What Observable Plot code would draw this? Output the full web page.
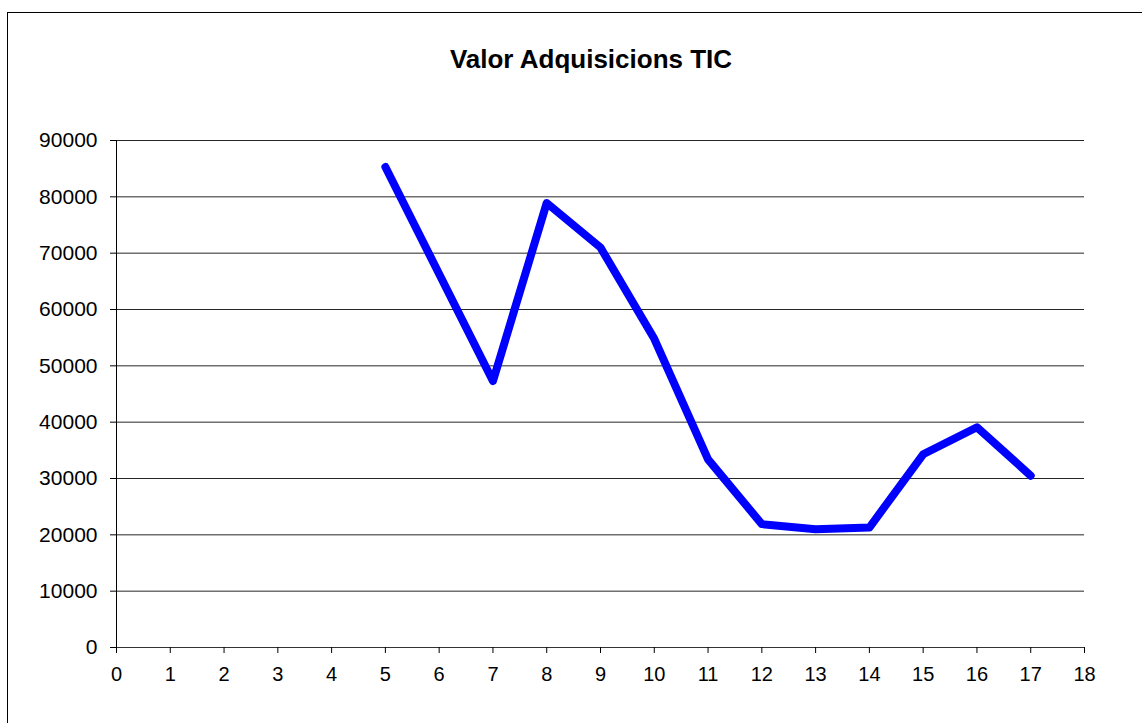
<!DOCTYPE html>
<html>
<head>
<meta charset="utf-8">
<script src="https://cdn.jsdelivr.net/npm/d3@7"></script>
<script src="https://cdn.jsdelivr.net/npm/@observablehq/plot@0.6"></script>
<style>
  html, body { margin: 0; padding: 0; background: #fff; overflow: hidden; width: 1142px; height: 723px; }
  #frame { position: absolute; left: 7px; top: 12px; width: 1300px; height: 900px; border: 1px solid #000; box-sizing: border-box; }
  #title { position: absolute; left: 0; width: 1182px; top: 44px; line-height: 26px; text-align: center; font: bold 26px "Liberation Sans", Arial, sans-serif; color: #000; }
  #chart { position: absolute; left: 0; top: 0; }
</style>
</head>
<body>
<div id="frame"></div>
<div id="title">Valor Adquisicions TIC</div>
<div id="chart"></div>
<script>
const xValues = [5, 6, 7, 8, 9, 10, 11, 12, 13, 14, 15, 16, 17];
const yValues = [85300, 66300, 47300, 78900, 71000, 54800, 33400, 21900, 21000, 21300, 34300, 39100, 30500];
const xTicks = d3.range(0, 19);
const yTicks = d3.range(0, 90001, 10000);

const data = xValues.map((x, i) => ({x, y: yValues[i]}));

const chart = Plot.plot({
  width: 1142,
  height: 723,
  marginLeft: 116,
  marginRight: 58,
  marginTop: 140,
  marginBottom: 76,
  style: { fontFamily: '"Liberation Sans", Arial, sans-serif', fontSize: "20px", background: "transparent", color: "#000" },
  x: { domain: [0, 18], ticks: xTicks, tickFormat: d => String(d), label: null },
  y: { domain: [0, 90000], ticks: yTicks, tickFormat: d => String(d), label: null },
  marks: [
    Plot.gridY(yTicks.filter(d => d > 0), { stroke: "#000", strokeOpacity: 0.85, strokeWidth: 1 }),
    Plot.ruleY([0], { stroke: "#000", strokeOpacity: 0.8 }),
    Plot.ruleX([0], { stroke: "#000" }),
    Plot.axisY({ ticks: yTicks, tickSize: 6, tickPadding: 13, tickFormat: d => String(d), fontSize: 21, label: null, stroke: "#000" }),
    Plot.axisX({ ticks: xTicks, tickSize: 6, tickPadding: 13, tickFormat: d => String(d), fontSize: 20, label: null, stroke: "#000" }),
    Plot.line(data, { x: "x", y: "y", stroke: "#0000ff", strokeWidth: 8, strokeLinecap: "round", strokeLinejoin: "round" })
  ]
});
document.getElementById("chart").appendChild(chart);
</script>
</body>
</html>
